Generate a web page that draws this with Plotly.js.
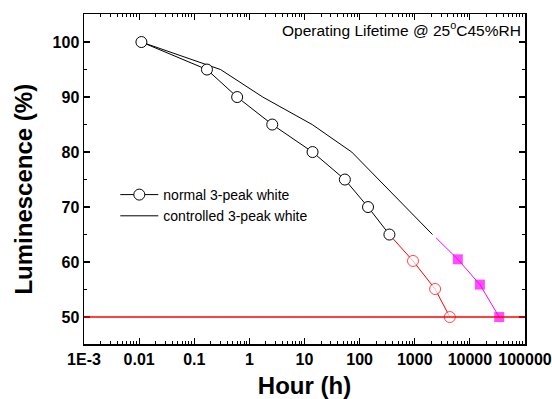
<!DOCTYPE html>
<html>
<head>
<meta charset="utf-8">
<script src="https://cdn.plot.ly/plotly-3.0.1.min.js"></script>
<style>html,body{margin:0;padding:0;background:#fff}#chart{width:552px;height:399px}</style>
</head>
<body>
<div id="chart"></div>
<script>
// normal 3-peak white (measured, black)
const normalHours = [0.011, 0.17, 0.6, 2.6, 14, 54, 142, 347];
const normalLum = [100, 95, 90, 85, 80, 75, 70, 65];
// normal 3-peak white (extrapolated, red)
const normalExtHours = [347, 930, 2340, 4330];
const normalExtLum = [65, 60.2, 55.1, 50];
// controlled 3-peak white (measured, black line)
const ctrlHours = [0.011, 0.3, 1.75, 13.8, 72, 221, 686, 2100];
const ctrlLum = [100, 95, 90, 85, 80, 75, 70, 65];
// controlled 3-peak white (extrapolated, magenta)
const ctrlExtHours = [2440, 6050, 15200, 34100];
const ctrlExtLum = [64.4, 60.5, 55.9, 50];
// reference level
const halfLife = 50;
const xTickVals = [1e-3, 1e-2, 1e-1, 1, 10, 100, 1000, 10000, 100000];
const xTickText = ['1E-3', '0.01', '0.1', '1', '10', '100', '1000', '10000', '100000'];
const yTickVals = [50, 60, 70, 80, 90, 100];

const minorX = [];
for (let e = -3; e < 5; e++) for (let d = 2; d <= 9; d++) minorX.push(d * Math.pow(10, e));

const FONT = 'Liberation Sans, Arial, sans-serif';

const traces = [
  {x: ctrlHours, y: ctrlLum, mode: 'lines', name: 'controlled 3-peak white',
   line: {color: '#000', width: 1}, legendrank: 2},
  {x: normalExtHours, y: normalExtLum, mode: 'lines+markers', showlegend: false,
   line: {color: '#ff0000', width: 1},
   marker: {symbol: 'circle', size: [0, 11, 11, 11], color: '#fff', line: {color: '#ff0000', width: 1}}},
  {x: ctrlExtHours, y: ctrlExtLum, mode: 'lines+markers', showlegend: false,
   line: {color: '#ff00ff', width: 1},
   marker: {symbol: 'square', size: [0, 10, 10, 10], color: '#ff00ff', line: {width: 0}}},
  {x: normalHours, y: normalLum, mode: 'lines+markers', name: 'normal 3-peak white',
   line: {color: '#000', width: 1},
   marker: {symbol: 'circle', size: 11, color: '#fff', line: {color: '#000', width: 1}}, legendrank: 1}
];

const layout = {
  width: 552, height: 399,
  margin: {l: 84, r: 27, t: 14, b: 55},
  paper_bgcolor: '#fff', plot_bgcolor: '#fff',
  font: {family: FONT, color: '#000'},
  showlegend: true,
  legend: {x: 0.071, y: 0.50, xanchor: 'left', yanchor: 'top', bgcolor: 'rgba(0,0,0,0)',
           itemwidth: 38,
           font: {family: FONT, size: 14, color: '#000'}, tracegroupgap: 0},
  xaxis: {
    type: 'log', range: [-3, 5], tickmode: 'array', tickvals: xTickVals, ticktext: xTickText,
    ticks: 'inside', ticklen: 6, tickwidth: 1.2, tickcolor: '#000',
    showline: true, linecolor: '#000', linewidth: 1.5, mirror: 'ticks',
    showgrid: false, zeroline: false,
    tickfont: {family: FONT, size: 16, color: '#000', weight: 'bold'},
    minor: {tickmode: 'array', tickvals: minorX, ticks: 'inside', ticklen: 3, tickcolor: '#000', tickwidth: 1, showgrid: false},
    title: {text: 'Hour (h)', font: {family: FONT, size: 24, color: '#000', weight: 'bold'}, standoff: 13}
  },
  yaxis: {
    range: [45.1, 105.1], tickmode: 'array', tickvals: yTickVals,
    ticks: 'inside', ticklen: 6, tickwidth: 1.2, tickcolor: '#000',
    showline: true, linecolor: '#000', linewidth: 1.5, mirror: 'ticks',
    showgrid: false, zeroline: false,
    tickfont: {family: FONT, size: 16, color: '#000', weight: 'bold'},
    minor: {dtick: 5, ticks: 'inside', ticklen: 3, tickcolor: '#000', tickwidth: 1, showgrid: false}
  },
  shapes: [
    {type: 'line', xref: 'paper', x0: 0, x1: 1, yref: 'y', y0: halfLife, y1: halfLife,
     line: {color: '#ff0000', width: 1.5}}
  ],
  annotations: [
    {xref: 'paper', yref: 'paper', x: 0.995, y: 0.99, xanchor: 'right', yanchor: 'top', showarrow: false,
     text: 'Operating Lifetime @ 25<sup>o</sup>C45%RH', font: {family: FONT, size: 15.5, color: '#000'}},
    {xref: 'paper', yref: 'paper', x: -0.136, y: 0.468, xanchor: 'center', yanchor: 'middle', showarrow: false,
     textangle: -90, text: 'Luminescence (%)',
     font: {family: FONT, size: 24, color: '#000', weight: 'bold'}}
  ]
};

Plotly.newPlot('chart', traces, layout, {displayModeBar: false, staticPlot: true});
</script>
</body>
</html>
